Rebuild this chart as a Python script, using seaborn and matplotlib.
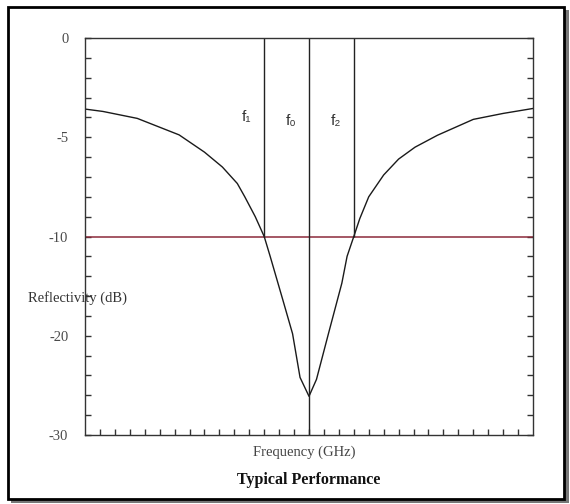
import numpy as np
import matplotlib
matplotlib.use("Agg")
import matplotlib.pyplot as plt
from matplotlib.patches import Rectangle
import seaborn as sns

# ---- data ----
freq = [0, 1.2, 3.5, 6.3, 8.0, 9.2, 10.2, 10.7, 11.4, 12.0, 12.4, 13.25, 13.9,
        14.4, 15.0, 15.5, 16.3, 17.2, 17.55, 18.0, 18.4, 19.0, 20.0, 21.0, 22.1,
        23.6, 26.0, 28.0, 30.0]
reflectivity = [-3.58, -3.7, -4.05, -4.88, -5.75, -6.5, -7.33, -8.0, -9.0, -10.0,
                -12.0, -16.4, -19.8, -24.2, -26.1, -24.4, -19.8, -14.7, -12.0,
                -10.0, -9.1, -8.0, -6.9, -6.1, -5.5, -4.9, -4.1, -3.8, -3.55]
f_markers = [12.0, 15.0, 18.0]
f_labels = ["f\u2081", "f\u2080", "f\u2082"]
threshold = -10
y_ticks = [0, -5, -10, -20, -30]
y_tick_labels = ["0", "-5", "-10", "-20", "-30"]

sns.set_style("white")
plt.rcParams['font.family'] = ['Liberation Serif', 'DejaVu Serif']

fig = plt.figure(figsize=(5.7, 5.04), dpi=100)

# frame with shadow
fig.patches.append(Rectangle((11/570, 1 - 503/504), 558/570, 493/504,
                             transform=fig.transFigure, facecolor='#777777',
                             edgecolor='none', zorder=-3))
fig.patches.append(Rectangle((8/570, 1 - 499/504), 556/570, 492/504,
                             transform=fig.transFigure, facecolor='white',
                             edgecolor='black', linewidth=2, zorder=-2))

ax = fig.add_axes([85/570, 1 - 435/504, 448/570, 397/504])
ax.set_facecolor('none')


def fwd(y):
    y = np.asarray(y, dtype=float)
    return np.where(y >= -10, y, -10 + (y + 10) / 2)


def inv(v):
    v = np.asarray(v, dtype=float)
    return np.where(v >= -10, v, -10 + 2 * (v + 10))


ax.set_yscale('function', functions=(fwd, inv))

sns.lineplot(x=freq, y=reflectivity, ax=ax, color='#1a1a1a', linewidth=1.0,
             estimator=None)

ax.axhline(threshold, color='#8b2a3a', linewidth=1.1, zorder=1)
ax.vlines([f_markers[0], f_markers[2]], threshold, 0, color='#222222', linewidth=1)
ax.vlines([f_markers[1]], -30, 0, color='#222222', linewidth=1)

label_y = [-4.0, -4.2, -4.2]
for xv, lab, ly in zip(f_markers, f_labels, label_y):
    ax.text(xv - 1.2, ly, lab, ha='center', va='center', fontsize=11,
            color='#333333', family=['Liberation Sans', 'DejaVu Sans'])

ax.set_xlim(0, 30)
ax.set_ylim(-30, 0)
ax.set_xticks([])
ax.set_xticks(np.arange(1, 30, 1), minor=True)
ax.set_yticks(y_ticks)
ax.set_yticklabels(y_tick_labels)
minor_y = [-1, -2, -3, -4, -6, -7, -8, -9, -12, -14, -16, -18, -22, -24, -26, -28]
ax.set_yticks(minor_y, minor=True)

ax.tick_params(axis='y', which='both', direction='in', length=4, width=1,
               left=True, right=True, labelleft=True, labelright=False,
               colors='#333333', labelcolor='#4a4a4a', labelsize=10.5, pad=12)
ax.tick_params(axis='x', which='both', direction='in', length=4, width=1,
               bottom=True, top=False, labelbottom=False, colors='#333333')

for s in ax.spines.values():
    s.set_color('#333333')
    s.set_linewidth(1)
    s.set_visible(True)

ax.set_xlabel('')
ax.set_ylabel('')

fig.text(28/570, 1 - 298/504, 'Reflectivity (dB)', ha='left', va='center',
         fontsize=10.5, color='#333333', zorder=5)
fig.text(304/570, 1 - 452/504, 'Frequency (GHz)', ha='center', va='center',
         fontsize=10.5, color='#444444')
fig.text(309/570, 1 - 480/504, 'Typical Performance', ha='center', va='center',
         fontsize=11.5, fontweight='bold', color='#111111')

fig.savefig('out.png', dpi=100)
